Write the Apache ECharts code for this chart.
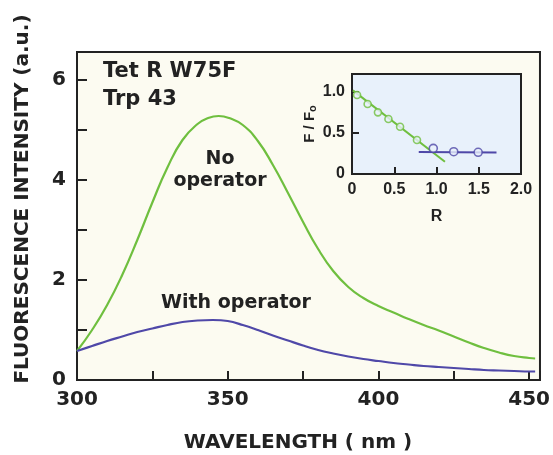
<!DOCTYPE html>
<html>
<head>
<meta charset="utf-8">
<script src="https://cdn.jsdelivr.net/npm/echarts@6/dist/echarts.min.js"></script>
<style>
html,body{margin:0;padding:0;background:#ffffff;}
#chart{width:553px;height:455px;}
</style>
</head>
<body>
<div id="chart"></div>
<script>
// Main spectra
const greenWavelengths = [300,305,310,315,320,325,330,335,340,343.5,347,350.5,355,360,365,370,375,380,385,390,395,400,405,410,415,420,425,430,435,440,445,450,452];
const noOperator       = [0.58,1.00,1.50,2.10,2.80,3.55,4.25,4.80,5.12,5.24,5.28,5.24,5.10,4.78,4.30,3.74,3.16,2.62,2.18,1.86,1.64,1.48,1.35,1.22,1.10,0.99,0.87,0.75,0.64,0.55,0.48,0.44,0.43];
const blueWavelengths  = [300,305,310,315,320,325,330,335,340,345,350,355,360,365,370,375,380,385,390,395,400,405,410,415,420,425,430,435,440,445,450,452];
const withOperator     = [0.58,0.68,0.78,0.87,0.96,1.03,1.10,1.16,1.19,1.20,1.18,1.10,1.00,0.89,0.79,0.69,0.60,0.53,0.47,0.42,0.38,0.34,0.31,0.28,0.26,0.24,0.22,0.20,0.19,0.18,0.17,0.17];

// Inset titration
const insetGreenR = [0.06,0.185,0.307,0.431,0.569,0.769];
const insetGreenF = [0.963,0.854,0.752,0.671,0.577,0.415];
const insetBlueR  = [0.962,1.204,1.493];
const insetBlueF  = [0.313,0.272,0.265];
const insetGreenFitR = [0.01,1.10];
const insetGreenFitF = [1.02,0.15];
const insetBlueFitR  = [0.79,1.71];
const insetBlueFitF  = [0.268,0.262];

// Tick labels
const xTickLabels = [300,350,400,450];
const yTickLabels = [0,2,4,6];
const insetXTickLabels = ['0','0.5','1.0','1.5','2.0'];
const insetYTickLabels = ['0','0.5','1.0'];

const GREEN = '#6fbf3f';
const BLUE = '#4f48a8';
const INK = '#222222';
const FONT = 'DejaVu Sans';

const zip = (a,b) => a.map((v,i)=>[v,b[i]]);

const chart = echarts.init(document.getElementById('chart'), null, {renderer:'canvas'});
chart.setOption({
  animation:false,
  backgroundColor:'#ffffff',
  grid:[
    {left:77, top:52, right:12, bottom:75, show:true, backgroundColor:'#fcfbf1', borderColor:INK, borderWidth:2, z:0},
    {left:352, top:74, right:32, bottom:281, show:true, backgroundColor:'#e8f1fb', borderColor:INK, borderWidth:2, z:3}
  ],
  xAxis:[
    {gridIndex:0, type:'value', min:300, max:453.6, interval:25,
     axisLine:{show:true, lineStyle:{color:INK, width:2}},
     axisTick:{show:true, inside:true, length:9, lineStyle:{color:INK, width:2}},
     splitLine:{show:false},
     axisLabel:{margin:10, color:INK, fontFamily:FONT, fontWeight:'bold', fontSize:20,
       formatter:v => xTickLabels.indexOf(v) >= 0 ? String(v) : ''}},
    {gridIndex:1, type:'value', min:0, max:2, interval:0.5, z:4,
     axisLine:{show:true, lineStyle:{color:INK, width:2}},
     axisTick:{show:true, inside:true, length:7, lineStyle:{color:INK, width:2}},
     splitLine:{show:false},
     axisLabel:{margin:8, color:INK, fontFamily:'Liberation Sans', fontWeight:'bold', fontSize:16,
       formatter:v => { const i = Math.round(v/0.5); return Math.abs(v - i*0.5) < 1e-6 ? insetXTickLabels[i] : ''; }},
     name:'R', nameLocation:'middle', nameGap:35,
     nameTextStyle:{color:INK, fontFamily:'Liberation Sans', fontWeight:'bold', fontSize:16}}
  ],
  yAxis:[
    {gridIndex:0, type:'value', min:0, max:6.56, interval:1,
     axisLine:{show:true, lineStyle:{color:INK, width:2}},
     axisTick:{show:true, inside:true, length:10, lineStyle:{color:INK, width:2}},
     splitLine:{show:false},
     axisLabel:{margin:11, color:INK, fontFamily:FONT, fontWeight:'bold', fontSize:20,
       formatter:v => yTickLabels.indexOf(v) >= 0 ? String(v) : ''}},
    {gridIndex:1, type:'value', min:0, max:1.22, interval:0.5, z:4,
     axisLine:{show:true, lineStyle:{color:INK, width:2}},
     axisTick:{show:true, inside:true, length:7, lineStyle:{color:INK, width:2}},
     splitLine:{show:false},
     axisLabel:{margin:7, color:INK, fontFamily:'Liberation Sans', fontWeight:'bold', fontSize:16,
       formatter:v => { const i = Math.round(v/0.5); return Math.abs(v - i*0.5) < 1e-6 ? insetYTickLabels[i] : ''; }},
     name:'F / F{sub|o}', nameLocation:'middle', nameGap:32, nameRotate:90,
     nameTextStyle:{color:INK, fontFamily:'Liberation Sans', fontWeight:'bold', fontSize:15,
       rich:{sub:{fontSize:11, fontFamily:'Liberation Sans', fontWeight:'bold', color:INK, verticalAlign:'bottom', padding:[6,0,0,0]}}}}
  ],
  series:[
    {type:'line', xAxisIndex:0, yAxisIndex:0, data:zip(greenWavelengths, noOperator), smooth:0.5,
     showSymbol:false, lineStyle:{color:GREEN, width:2.2}, z:2},
    {type:'line', xAxisIndex:0, yAxisIndex:0, data:zip(blueWavelengths, withOperator), smooth:0.4,
     showSymbol:false, lineStyle:{color:BLUE, width:2.2}, z:2},
    {type:'line', xAxisIndex:1, yAxisIndex:1, data:zip(insetGreenFitR, insetGreenFitF),
     showSymbol:false, lineStyle:{color:GREEN, width:2}, z:5},
    {type:'line', xAxisIndex:1, yAxisIndex:1, data:zip(insetBlueFitR, insetBlueFitF),
     showSymbol:false, lineStyle:{color:BLUE, width:2}, z:5},
    {type:'scatter', xAxisIndex:1, yAxisIndex:1, data:zip(insetGreenR, insetGreenF),
     symbol:'circle', symbolSize:7, itemStyle:{color:'#e8f1fb', borderColor:GREEN, borderWidth:1.6}, z:6},
    {type:'scatter', xAxisIndex:1, yAxisIndex:1, data:zip(insetBlueR, insetBlueF),
     symbol:'circle', symbolSize:8, itemStyle:{color:'#e8f1fb', borderColor:BLUE, borderWidth:1.6}, z:6}
  ],
  graphic:[
    {type:'text', x:23, y:199, rotation:Math.PI/2, z:10,
     style:{text:'FLUORESCENCE INTENSITY (a.u.)', fill:INK, font:'bold 20px "DejaVu Sans"', align:'center', verticalAlign:'middle'}},
    {type:'text', x:298, y:443, z:10,
     style:{text:'WAVELENGTH ( nm )', fill:INK, font:'bold 20px "DejaVu Sans"', align:'center', verticalAlign:'middle'}},
    {type:'text', x:103, y:72, z:10,
     style:{text:'Tet R W75F', fill:INK, font:'bold 21px "DejaVu Sans"', align:'left', verticalAlign:'middle'}},
    {type:'text', x:103, y:100, z:10,
     style:{text:'Trp 43', fill:INK, font:'bold 21px "DejaVu Sans"', align:'left', verticalAlign:'middle'}},
    {type:'text', x:220, y:170, z:10,
     style:{text:'No\noperator', fill:INK, font:'bold 19px "DejaVu Sans"', align:'center', verticalAlign:'middle', lineHeight:22}},
    {type:'text', x:236, y:303, z:10,
     style:{text:'With operator', fill:INK, font:'bold 19px "DejaVu Sans"', align:'center', verticalAlign:'middle'}}
  ]
});
</script>
</body>
</html>
